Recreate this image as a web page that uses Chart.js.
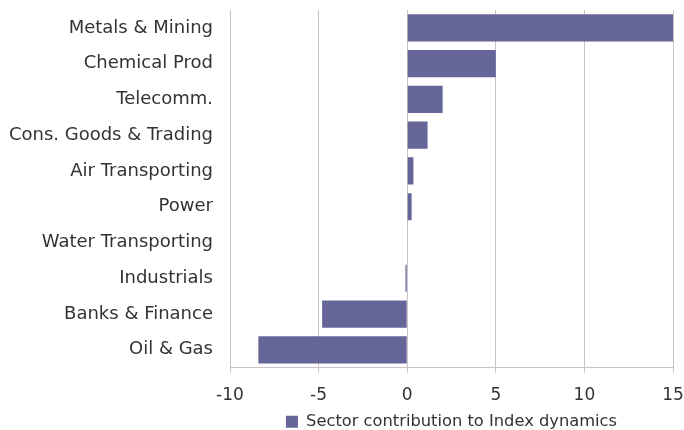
<!DOCTYPE html>
<html>
<head>
<meta charset="utf-8">
<script src="https://cdn.jsdelivr.net/npm/chart.js@4"></script>
<style>
  html, body { margin: 0; padding: 0; background: #fff; }
  #wrap { width: 684px; height: 430px; }
</style>
</head>
<body>
<div id="wrap"><canvas id="c" width="684" height="430"></canvas></div>
<script>
const sectors = [
  "Metals & Mining",
  "Chemical Prod",
  "Telecomm.",
  "Cons. Goods & Trading",
  "Air Transporting",
  "Power",
  "Water Transporting",
  "Industrials",
  "Banks & Finance",
  "Oil & Gas",
];
const contribution = [15.0, 5.0, 2.0, 1.15, 0.35, 0.25, 0.0, -0.1, -4.8, -8.4];
const seriesName = "Sector contribution to Index dynamics";

Chart.defaults.font.family = "'DejaVu Sans', sans-serif";
Chart.defaults.font.size = 17;
Chart.defaults.color = "#333333";

new Chart(document.getElementById("c"), {
  type: "bar",
  data: {
    labels: sectors,
    datasets: [{
      label: seriesName,
      data: contribution,
      backgroundColor: "#65659a",
      borderWidth: 0,
      categoryPercentage: 1,
      barPercentage: 0.76,
    }],
  },
  options: {
    indexAxis: "y",
    responsive: false,
    animation: false,
    layout: { padding: { top: 0, left: 0, right: 0, bottom: -10 } },
    scales: {
      x: {
        min: -10,
        max: 15,
        afterFit: (s) => { s.paddingLeft = 0; s.paddingRight = 11; s.height = 46; },
        ticks: { stepSize: 5, padding: 13, color: "#333333" },
        grid: { color: "#cbc3c3", lineWidth: 1, tickLength: 5, tickColor: "#cbc3c3" },
        border: { color: "#cbc3c3" },
      },
      y: {
        afterFit: (s) => { s.width = 230; s.paddingTop = 10; s.paddingBottom = 0; },
        ticks: { padding: 17, color: "#333333", font: { size: 18 } },
        grid: { display: false, drawTicks: false },
        border: { color: "#cbc3c3" },
      },
    },
    plugins: {
      legend: {
        position: "bottom",
        fullSize: false,
        labels: { boxWidth: 12, boxHeight: 12, padding: 0, color: "#333333", font: { size: 16.3 } },
      },
      tooltip: { enabled: false },
    },
  },
});
</script>
</body>
</html>
